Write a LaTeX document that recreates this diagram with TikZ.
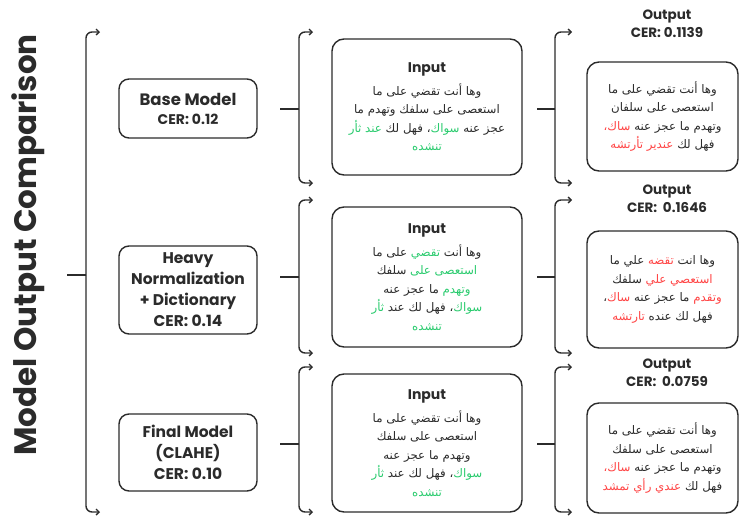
\documentclass[tikz,border=0pt]{standalone}
\usepackage{fontspec}
\setmainfont{Poppins}
\newfontfamily\arabicfont[Script=Arabic]{DejaVu Sans}
\TeXXeTstate=1
\usetikzlibrary{arrows.meta}
\definecolor{ink}{HTML}{2B2B2B}
\definecolor{okgreen}{HTML}{2ACB6E}
\definecolor{errred}{HTML}{FF4545}
\newcommand{\ar}[1]{{\arabicfont\beginR #1\endR}}
\newcommand{\okw}[1]{\textcolor{okgreen}{\ar{#1}}}
\newcommand{\errw}[1]{\textcolor{errred}{\ar{#1}}}
\tikzset{
  conn/.style={draw=ink, line width=1.4pt},
  brk/.style={conn, rounded corners=6pt, -{Straight Barb[length=3pt,width=6pt]}},
  modelbox/.style={draw=ink, line width=1.4pt, rounded corners=10pt, minimum width=138pt,
    align=center, text=ink, font=\bfseries\fontsize{15.5}{21}\selectfont, inner sep=2pt},
  textbox/.style={draw=ink, line width=1.4pt, rounded corners=12pt, align=center, text=ink,
    font=\arabicfont\fontsize{11.8}{18.5}\selectfont, inner sep=2pt},
  inbox/.style={textbox, minimum width=190pt},
  outbox/.style={textbox, minimum width=151pt},
  lbl/.style={text=ink, align=center, font=\bfseries\fontsize{13.5}{18}\selectfont, inner sep=0pt}
}
\newcommand{\intitle}{{\rmfamily\bfseries\fontsize{14}{18}\selectfont Input}}
\begin{document}
\begin{tikzpicture}[x=1pt,y=-1pt]
\useasboundingbox (0,0) rectangle (740,517);

% title
\node[rotate=90, text=ink, font=\bfseries\fontsize{31}{31}\selectfont] (title) at (28,245) {Model Output Comparison};

% model boxes
\node[modelbox, minimum height=59pt] (m1) at (188,108.5)
  {{\fontsize{16.5}{20}\selectfont Base Model}\\[-2pt]{\fontsize{14}{16}\selectfont CER: 0.12}};
\node[modelbox, minimum height=88pt] (m2) at (188,290)
  {Heavy\\Normalization\\+ Dictionary\\CER: 0.14};
\node[modelbox, minimum height=77pt] (m3) at (188,452.5)
  {Final Model\\(CLAHE)\\CER: 0.10};

% input boxes
\node[inbox, minimum height=136pt] (i1) at (427,107)
  {\intitle\\[4pt]
   \ar{وها أنت تقضي على ما}\\
   \ar{استعصى على سلفك وتهدم ما}\\
   \okw{عند ثأر} \ar{، فهل لك}\okw{سواك} \ar{عجز عنه}\\
   \okw{تنشده}};
\node[inbox, minimum height=140pt] (i2) at (427,277)
  {\intitle\\[4pt]
   \ar{على ما} \okw{تقضي} \ar{وها أنت}\\
   \ar{سلفك} \okw{استعصى على}\\
   \ar{ما عجز عنه} \okw{وتهدم}\\
   \okw{ثأر} \ar{، فهل لك عند}\okw{سواك}\\
   \okw{تنشده}};
\node[inbox, minimum height=138pt] (i3) at (427,443)
  {\intitle\\[4pt]
   \ar{وها أنت تقضي على ما}\\
   \ar{استعصى على سلفك}\\
   \ar{وتهدم ما عجز عنه}\\
   \okw{ثأر} \ar{، فهل لك عند}\okw{سواك}\\
   \okw{تنشده}};

% output labels
\node[lbl] (l1) at (667,24) {Output\\CER: 0.1139};
\node[lbl] (l2) at (667,198.5) {Output\\CER:\ \ 0.1646};
\node[lbl] (l3) at (667,372.5) {Output\\CER:\ \ 0.0759};

% output boxes
\node[outbox, minimum height=109pt] (o1) at (662.5,116.5)
  {\ar{وها أنت تقضي على ما}\\
   \ar{استعصى على سلفان}\\
   \errw{ساك،} \ar{وتهدم ما عجز عنه}\\
   \errw{عندير تأرتشه} \ar{فهل لك}};
\node[outbox, minimum height=117pt] (o2) at (662.5,289.5)
  {\ar{علي ما} \errw{تقضه} \ar{وها انت}\\
   \ar{سلفك} \errw{استعصي علي}\\
   \ar{،}\errw{ساك} \ar{ما عجز عنه} \errw{وتقدم}\\
   \errw{تارتشه} \ar{فهل لك عنده}};
\node[outbox, minimum height=110pt] (o3) at (662.5,458)
  {\ar{وها أنت تقضي على ما}\\
   \ar{استعصى على سلفك}\\
   \errw{ساك،} \ar{وتهدم ما عجز عنه}\\
   \errw{عندي رأي تمشد} \ar{فهل لك}};

% left bracket
\coordinate (ls) at (67,275);
\coordinate (lv) at (86,275);
\coordinate (lt) at (100,32);
\coordinate (lb) at (100,512);
\draw[conn] (ls) -- (lv);
\draw[brk] (lv) |- (lt);
\draw[brk] (lv) |- (lb);

% middle and right brackets
\foreach \k/\ys/\yt/\yb in {1/109/32/183, 2/277/200/353, 3/444/367/512}{
  \coordinate (ms\k) at (280,\ys);
  \coordinate (mv\k) at (299,\ys);
  \coordinate (mt\k) at (313,\yt);
  \coordinate (mb\k) at (313,\yb);
  \draw[conn] (ms\k) -- (mv\k);
  \draw[brk] (mv\k) |- (mt\k);
  \draw[brk] (mv\k) |- (mb\k);
  \coordinate (rs\k) at (537,\ys);
  \coordinate (rv\k) at (555,\ys);
  \coordinate (rt\k) at (572,\yt);
  \coordinate (rb\k) at (572,\yb);
  \draw[conn] (rs\k) -- (rv\k);
  \draw[brk] (rv\k) |- (rt\k);
  \draw[brk] (rv\k) |- (rb\k);
}
\end{tikzpicture}
\end{document}
